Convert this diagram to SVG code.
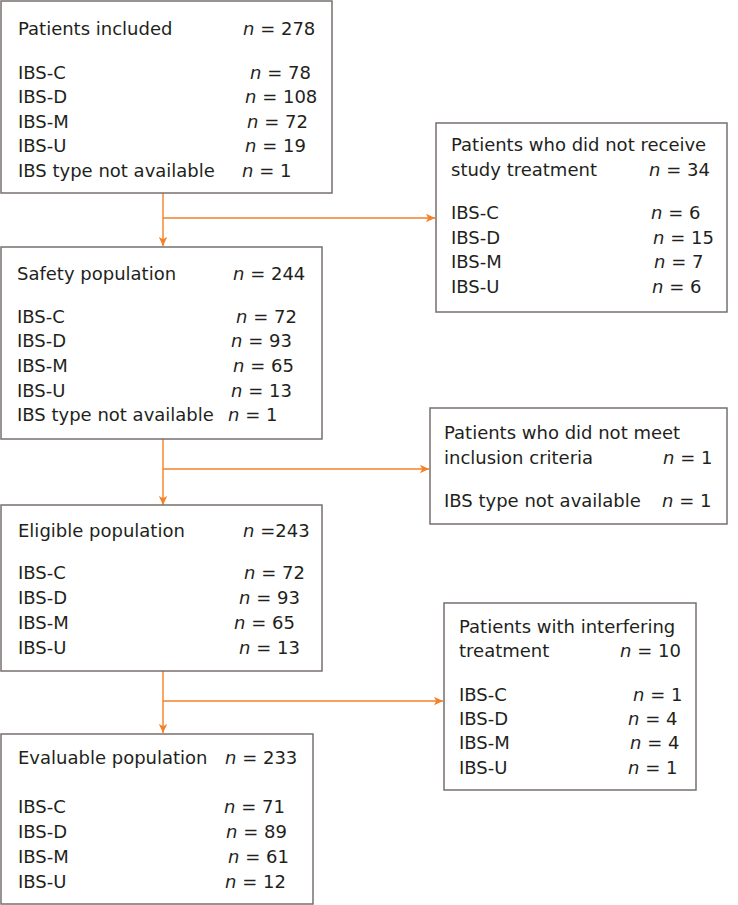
<svg xmlns="http://www.w3.org/2000/svg" width="738" height="905" viewBox="0 0 738 905">
<style>
.box{fill:#fff;stroke:#77706e;stroke-width:1.5}
text{font-family:"DejaVu Sans","Liberation Sans",sans-serif;font-size:18px;fill:#231f20}
.i{font-style:italic}
.c{fill:none;stroke:#f58025;stroke-width:1.4}
</style>
<defs>
<marker id="ah" markerWidth="10" markerHeight="10" refX="9" refY="5" orient="auto" markerUnits="userSpaceOnUse">
<path d="M0,0.8 L9,5 L0,9.2 L2.2,5 Z" fill="#f58025"/>
</marker>
</defs>
<rect width="738" height="905" fill="#fff"/>
<g id="connectors">
<line class="c" x1="163" y1="193" x2="163" y2="246" marker-end="url(#ah)"/>
<line class="c" x1="163" y1="218" x2="435" y2="218" marker-end="url(#ah)"/>
<line class="c" x1="163" y1="439" x2="163" y2="505" marker-end="url(#ah)"/>
<line class="c" x1="163" y1="469" x2="429" y2="469" marker-end="url(#ah)"/>
<line class="c" x1="163" y1="671" x2="163" y2="733" marker-end="url(#ah)"/>
<line class="c" x1="163" y1="701" x2="443" y2="701" marker-end="url(#ah)"/>
</g>
<g id="included">
<rect class="box" x="1" y="1" width="331" height="192"/>
<text x="18" y="35">Patients included</text><text x="243" y="35"><tspan class="i">n</tspan> = 278</text>
<text x="18" y="79">IBS-C</text><text x="250" y="79"><tspan class="i">n</tspan> = 78</text>
<text x="18" y="103">IBS-D</text><text x="245" y="103"><tspan class="i">n</tspan> = 108</text>
<text x="18" y="128">IBS-M</text><text x="247" y="128"><tspan class="i">n</tspan> = 72</text>
<text x="18" y="152">IBS-U</text><text x="245" y="152"><tspan class="i">n</tspan> = 19</text>
<text x="18" y="177">IBS type not available</text><text x="242" y="177"><tspan class="i">n</tspan> = 1</text>
</g>
<g id="safety">
<rect class="box" x="1" y="247" width="321" height="192"/>
<text x="17" y="280">Safety population</text><text x="233" y="280"><tspan class="i">n</tspan> = 244</text>
<text x="17" y="323">IBS-C</text><text x="236" y="323"><tspan class="i">n</tspan> = 72</text>
<text x="17" y="347">IBS-D</text><text x="231" y="347"><tspan class="i">n</tspan> = 93</text>
<text x="17" y="372">IBS-M</text><text x="233" y="372"><tspan class="i">n</tspan> = 65</text>
<text x="17" y="397">IBS-U</text><text x="231" y="397"><tspan class="i">n</tspan> = 13</text>
<text x="17" y="421">IBS type not available</text><text x="228" y="421"><tspan class="i">n</tspan> = 1</text>
</g>
<g id="eligible">
<rect class="box" x="1" y="505" width="321" height="166"/>
<text x="18" y="537">Eligible population</text><text x="243" y="537"><tspan class="i">n</tspan> =243</text>
<text x="18" y="579">IBS-C</text><text x="244" y="579"><tspan class="i">n</tspan> = 72</text>
<text x="18" y="604">IBS-D</text><text x="239" y="604"><tspan class="i">n</tspan> = 93</text>
<text x="18" y="629">IBS-M</text><text x="234" y="629"><tspan class="i">n</tspan> = 65</text>
<text x="18" y="654">IBS-U</text><text x="239" y="654"><tspan class="i">n</tspan> = 13</text>
</g>
<g id="evaluable">
<rect class="box" x="1" y="734" width="312" height="170"/>
<text x="18" y="764">Evaluable population</text><text x="225" y="764"><tspan class="i">n</tspan> = 233</text>
<text x="18" y="813">IBS-C</text><text x="224" y="813"><tspan class="i">n</tspan> = 71</text>
<text x="18" y="838">IBS-D</text><text x="226" y="838"><tspan class="i">n</tspan> = 89</text>
<text x="18" y="863">IBS-M</text><text x="228" y="863"><tspan class="i">n</tspan> = 61</text>
<text x="18" y="888">IBS-U</text><text x="225" y="888"><tspan class="i">n</tspan> = 12</text>
</g>
<g id="not-received">
<rect class="box" x="436" y="123" width="291" height="189"/>
<text x="451" y="151">Patients who did not receive</text>
<text x="451" y="176">study treatment</text><text x="649" y="176"><tspan class="i">n</tspan> = 34</text>
<text x="451" y="219">IBS-C</text><text x="651" y="219"><tspan class="i">n</tspan> = 6</text>
<text x="451" y="244">IBS-D</text><text x="653" y="244"><tspan class="i">n</tspan> = 15</text>
<text x="451" y="268">IBS-M</text><text x="654" y="268"><tspan class="i">n</tspan> = 7</text>
<text x="451" y="293">IBS-U</text><text x="652" y="293"><tspan class="i">n</tspan> = 6</text>
</g>
<g id="not-eligible">
<rect class="box" x="430" y="408" width="297" height="116"/>
<text x="444" y="439">Patients who did not meet</text>
<text x="444" y="464">inclusion criteria</text><text x="663" y="464"><tspan class="i">n</tspan> = 1</text>
<text x="444" y="507">IBS type not available</text><text x="662" y="507"><tspan class="i">n</tspan> = 1</text>
</g>
<g id="interfering">
<rect class="box" x="444" y="603" width="252" height="187"/>
<text x="459" y="633">Patients with interfering</text>
<text x="459" y="657">treatment</text><text x="620" y="657"><tspan class="i">n</tspan> = 10</text>
<text x="459" y="701">IBS-C</text><text x="633" y="701"><tspan class="i">n</tspan> = 1</text>
<text x="459" y="725">IBS-D</text><text x="628" y="725"><tspan class="i">n</tspan> = 4</text>
<text x="459" y="749">IBS-M</text><text x="630" y="749"><tspan class="i">n</tspan> = 4</text>
<text x="459" y="774">IBS-U</text><text x="628" y="774"><tspan class="i">n</tspan> = 1</text>
</g>
</svg>
